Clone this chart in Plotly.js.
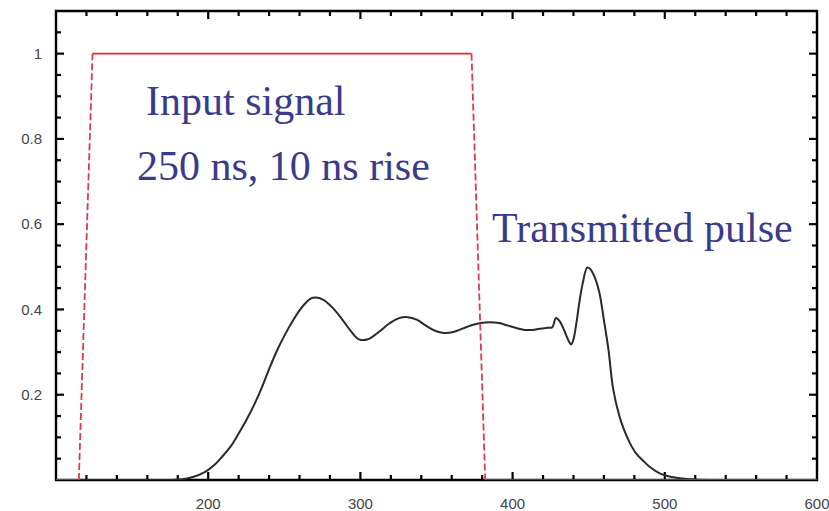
<!DOCTYPE html>
<html>
<head>
<meta charset="utf-8">
<script src="https://cdn.plot.ly/plotly-3.0.1.min.js"></script>
<style>
  html, body { margin: 0; padding: 0; background: #fff; }
  #chart { width: 829px; height: 511px; }
</style>
</head>
<body>
<div id="chart"></div>
<script>
// Input pulse: corner points (time in ns, normalised amplitude)
const inputTime = [100, 115, 124, 373, 382, 600];
const inputAmp  = [0, 0, 1, 1, 0, 0];

// Transmitted pulse sampled along the trace
const outTime = [100, 150, 170, 183, 190, 198, 204, 209, 215, 220, 225, 230, 235, 240, 245, 250,
                 255, 260, 264, 267, 271, 276, 282, 288, 294, 299, 305, 312, 319, 325, 331, 337, 343,
                 349, 355, 361, 367, 373, 379, 385, 391, 397, 403, 408, 413, 418, 423, 426, 428.5,
                 431, 434, 437, 438.5, 440, 442, 444, 446, 449, 451, 454, 457, 460, 463, 466, 470,
                 473, 477, 481, 485, 490, 497, 503, 510, 520, 530, 600];
const outAmp  = [0, 0, 0, 0.002, 0.007, 0.019, 0.035, 0.054, 0.08, 0.109, 0.14, 0.175, 0.215, 0.26, 0.302, 0.338,
                 0.37, 0.398, 0.415, 0.425, 0.428, 0.422, 0.403, 0.377, 0.348, 0.33, 0.33, 0.347, 0.367, 0.379, 0.382, 0.376, 0.362,
                 0.35, 0.345, 0.347, 0.355, 0.363, 0.368, 0.37, 0.368, 0.362, 0.356, 0.352, 0.352, 0.355, 0.357, 0.358, 0.38,
                 0.372, 0.35, 0.325, 0.318, 0.33, 0.37, 0.42, 0.46, 0.498, 0.495, 0.475, 0.44, 0.375, 0.305, 0.215, 0.152,
                 0.12, 0.087, 0.063, 0.048, 0.031, 0.015, 0.008, 0.004, 0.001, 0, 0];

// Axis tick labels
const xTickVals = [200, 300, 400, 500, 600];
const xTickText = ['200', '300', '400', '500', '600'];
const yTickVals = [0.2, 0.4, 0.6, 0.8, 1];
const yTickText = ['0.2', '0.4', '0.6', '0.8', '1'];

// Text labels
const labels = [
  {text: 'Input signal',       x: 158, y: 0.888},
  {text: '250 ns, 10 ns rise', x: 152, y: 0.737},
  {text: 'Transmitted pulse',  x: 385, y: 0.592}
];

const X_RANGE = [100, 600], Y_RANGE = [0, 1.1];
const X_STEP = 20, Y_STEP = 0.05;

// Split the input pulse into flat parts (solid) and edges (dashed)
const flatX = [], flatY = [], edgeX = [], edgeY = [];
for (let i = 0; i < inputTime.length - 1; i++) {
  const flat = inputAmp[i] === inputAmp[i + 1];
  const tx = flat ? flatX : edgeX, ty = flat ? flatY : edgeY;
  tx.push(inputTime[i], inputTime[i + 1], null);
  ty.push(inputAmp[i], inputAmp[i + 1], null);
}

const traces = [
  {x: outTime, y: outAmp, mode: 'lines', cliponaxis: false,
   line: {color: '#2a2a2a', width: 2, shape: 'spline', smoothing: 1}, hoverinfo: 'skip'},
  {x: flatX, y: flatY, mode: 'lines', cliponaxis: false, connectgaps: false,
   line: {color: '#e8262b', width: 1.6}, hoverinfo: 'skip'},
  {x: edgeX, y: edgeY, mode: 'lines', cliponaxis: false, connectgaps: false,
   line: {color: '#d93a55', width: 1.8, dash: '7px,3px'}, hoverinfo: 'skip'}
];

// Plot-area size in pixels, used to turn tick sizes into axis units
const plotW = 829 - 56 - 12, plotH = 511 - 11 - 31;
const xPerPx = (X_RANGE[1] - X_RANGE[0]) / plotW;
const yPerPx = (Y_RANGE[1] - Y_RANGE[0]) / plotH;
const isMajor = (v, list) => list.some(t => Math.abs(t - v) < 1e-9);

// Inward tick marks on all four sides, drawn as small filled bars
const TICK_HALF = 1.1;   // half tick thickness, px
function bar(x0, x1, y0, y1) {
  return {type: 'rect', xref: 'x', yref: 'y', x0: x0, x1: x1, y0: y0, y1: y1,
          layer: 'below', line: {width: 0}, fillcolor: '#000000'};
}
const frameShapes = [
  {type: 'rect', xref: 'paper', yref: 'paper', x0: 0, x1: 1, y0: 0, y1: 1,
   layer: 'below', line: {color: '#000000', width: 2.4}, fillcolor: 'rgba(0,0,0,0)'}
];
for (let k = 1; X_RANGE[0] + k * X_STEP < X_RANGE[1] - 1e-9; k++) {
  const v = X_RANGE[0] + k * X_STEP;
  const len = (isMajor(v, xTickVals) ? 8 : 5) * yPerPx;
  const hw = TICK_HALF * xPerPx;
  frameShapes.push(bar(v - hw, v + hw, Y_RANGE[0], Y_RANGE[0] + len));
  frameShapes.push(bar(v - hw, v + hw, Y_RANGE[1] - len, Y_RANGE[1]));
}
for (let k = 1; Y_RANGE[0] + k * Y_STEP < Y_RANGE[1] - 1e-9; k++) {
  const v = +(Y_RANGE[0] + k * Y_STEP).toFixed(4);
  const len = (isMajor(v, yTickVals) ? 8 : 5) * xPerPx;
  const hh = TICK_HALF * yPerPx;
  frameShapes.push(bar(X_RANGE[0], X_RANGE[0] + len, v - hh, v + hh));
  frameShapes.push(bar(X_RANGE[1] - len, X_RANGE[1], v - hh, v + hh));
}

const tickFont = {family: 'Liberation Sans, Arial, sans-serif', size: 15, color: '#444'};

const layout = {
  width: 829, height: 511,
  margin: {l: 56, r: 12, t: 11, b: 31},
  paper_bgcolor: '#fff', plot_bgcolor: '#fff',
  showlegend: false,
  xaxis: {
    range: X_RANGE, tickmode: 'array', tickvals: xTickVals, ticktext: xTickText,
    ticks: '', showline: false, showgrid: false, zeroline: false,
    tickfont: tickFont, ticklabelstandoff: 13, ticklabeloverflow: 'allow'
  },
  yaxis: {
    range: Y_RANGE, tickmode: 'array', tickvals: yTickVals, ticktext: yTickText,
    ticks: '', showline: false, showgrid: false, zeroline: false,
    tickfont: tickFont, ticklabelstandoff: 13
  },
  shapes: frameShapes,
  annotations: labels.map(l => ({
    text: l.text, x: l.x, y: l.y, xref: 'x', yref: 'y',
    xanchor: 'left', yanchor: 'middle', showarrow: false,
    font: {family: 'Liberation Serif, Times New Roman, serif', size: 42, color: '#3b3b8c'}
  }))
};

Plotly.newPlot('chart', traces, layout, {staticPlot: true, displayModeBar: false});
</script>
</body>
</html>
